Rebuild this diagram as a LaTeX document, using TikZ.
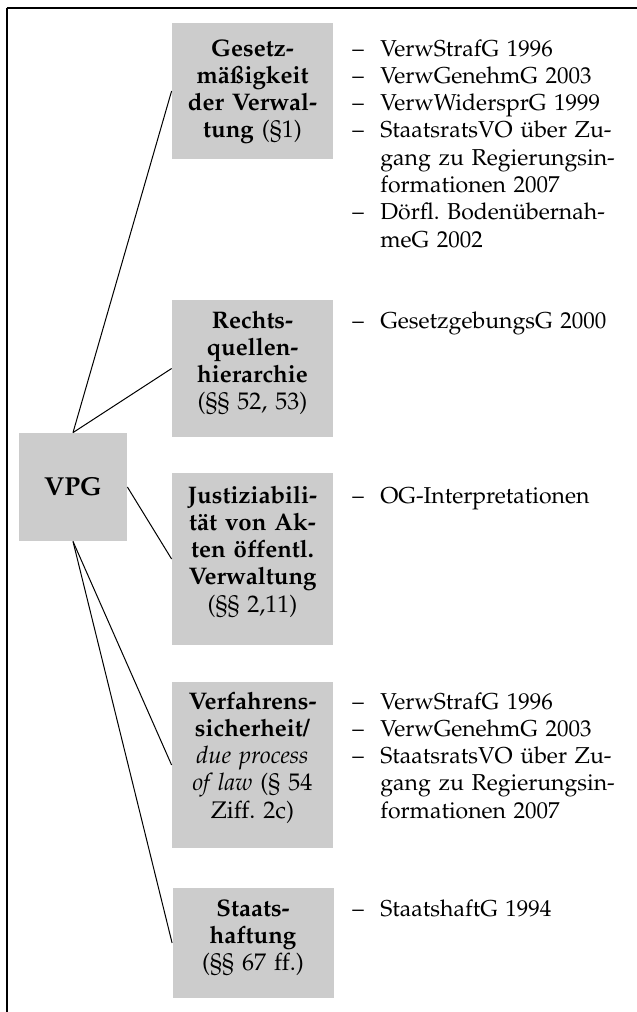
\documentclass[tikz,border=0pt]{standalone}
\usepackage[T1]{fontenc}
\usepackage{mathpazo}
\definecolor{boxgray}{RGB}{204,204,204}
\newcommand\dit{\makebox[14pt][l]{--}}
\newcommand\cit{\hspace*{14pt}}
\tikzset{
  box/.style={fill=boxgray, draw=none, minimum width=80.5pt, inner sep=0pt},
  btext/.style={text width=80pt, align=center, anchor=base, inner sep=0pt,
    font=\fontsize{12}{13.65}\selectfont\frenchspacing},
  ltext/.style={text width=140pt, align=left, anchor=base west, inner sep=0pt,
    font=\fontsize{11.5}{13.65}\selectfont\frenchspacing},
  conn/.style={draw, line width=0.5pt},
}
\begin{document}
\begin{tikzpicture}[x=0.5pt,y=-0.5pt]
\useasboundingbox (0,0) rectangle (637,1012);
% frame
\draw[line width=1.4pt] (6.5,8) -- (637,8);
\draw[line width=0.8pt] (7,8) -- (7,1012);
% boxes
\node[box, minimum width=54pt, minimum height=54pt, font=\fontsize{13}{15}\selectfont\bfseries] (vpg) at (73,487) {VPG};
\node[box, minimum height=68pt] (b1) at (252.5,91) {};
\node[box, minimum height=68.5pt] (b2) at (252.5,368.5) {};
\node[box, minimum height=86pt] (b3) at (252.5,559) {};
\node[box, minimum height=83pt] (b4) at (252.5,765) {};
\node[box, minimum height=55pt] (b5) at (253,943) {};
% box texts
\node[btext] (t1) at (252.5,56) {\textbf{Gesetz-}\\\textbf{m\"a\ss igkeit}\\\textbf{der Verwal-}\\\textbf{tung} (\S1)};
\node[btext] (t2) at (252.5,328) {\textbf{Rechts-}\\\textbf{quellen-}\\\textbf{hierarchie}\\(\S\S~52, 53)};
\node[btext] (t3) at (252.5,503) {\textbf{Justiziabili-}\\\textbf{t\"at von Ak-}\\\textbf{ten \"offentl.}\\\textbf{Verwaltung}\\(\S\S~2,11)};
\node[btext] (t4) at (252.5,709) {\textbf{Verfahrens-}\\\textbf{sicherheit/}\\\textit{due process}\\\textit{of law} (\S~54\\Ziff. 2c)};
\node[btext] (t5) at (253,916) {\textbf{Staats-}\\\textbf{haftung}\\(\S\S~67 ff.)};
% lists
\node[ltext] (l1) at (352,56) {\dit VerwStrafG 1996\\\dit VerwGenehmG 2003\\\dit VerwWidersprG 1999\\\dit StaatsratsVO \"uber Zu-\\\cit gang zu Regierungsin-\\\cit formationen 2007\\\dit D\"orfl. Boden\"ubernah-\\\cit meG 2002};
\node[ltext] (l2) at (352,328) {\dit GesetzgebungsG 2000};
\node[ltext] (l3) at (352,503) {\dit OG-Interpretationen};
\node[ltext] (l4) at (352,709) {\dit VerwStrafG 1996\\\dit VerwGenehmG 2003\\\dit StaatsratsVO \"uber Zu-\\\cit gang zu Regierungsin-\\\cit formationen 2007};
\node[ltext] (l5) at (352,916) {\dit StaatshaftG 1994};
% connectors
\draw[conn] (vpg.north) -- (b1.west);
\draw[conn] (vpg.north) -- (b2.west);
\draw[conn] (vpg.east) -- (b3.west);
\draw[conn] (vpg.south) -- (b4.west);
\draw[conn] (vpg.south) -- (b5.west);
\end{tikzpicture}
\end{document}
